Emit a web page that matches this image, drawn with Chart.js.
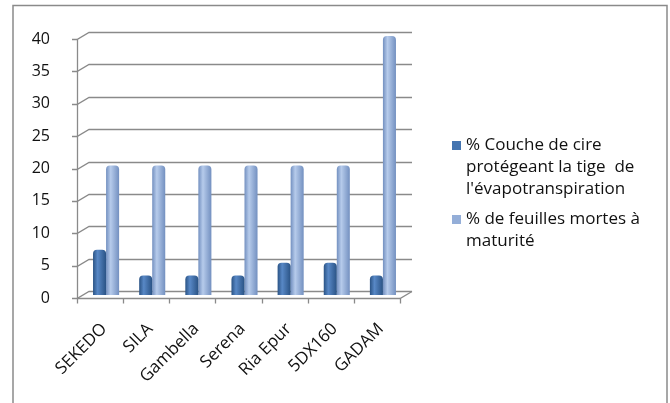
<!DOCTYPE html>
<html>
<head>
<meta charset="utf-8">
<script src="https://cdn.jsdelivr.net/npm/chart.js@4"></script>
<style>
  html, body { margin: 0; padding: 0; background: #fff; }
  canvas { display: block; }
</style>
</head>
<body>
<canvas id="chart" width="670" height="403"></canvas>
<script>
// Data
const categories = ['SEKEDO', 'SILA', 'Gambella', 'Serena', 'Ria Epur', '5DX160', 'GADAM'];
const waxCoating = [7, 3, 3, 3, 5, 5, 3];
const deadLeaves = [20, 20, 20, 20, 20, 20, 40];
const yMax = 40;
const yStep = 5;
const seriesLabels = [
  ['% Couche de cire', 'protégeant la tige  de', "l'évapotranspiration"],
  ['% de feuilles mortes à', 'maturité']
];

const FONT = '"Open Sans", sans-serif';
const GRID = '#8a8a8a';
const legendColors = ['#4474b0', '#94aed8'];

// cylinder-ish shading across each bar
function cylinder(base, edge, light) {
  return (ctx) => {
    const el = ctx.element;
    if (!el || !Number.isFinite(el.x) || !el.width) return base;
    const g = ctx.chart.ctx.createLinearGradient(el.x - el.width / 2, 0, el.x + el.width / 2, 0);
    g.addColorStop(0, edge);
    g.addColorStop(0.35, light);
    g.addColorStop(1, edge);
    return g;
  };
}

// fake 3D walls, floor and front axes like the Excel chart
const depth = { dx: 6, up: 4, down: 3 };
const frame3d = {
  id: 'frame3d',
  beforeDraw(chart) {
    const c = chart.ctx;
    c.save();
    c.strokeStyle = '#8a8a8a';
    c.lineWidth = 1.5;
    c.strokeRect(13, 5.5, 654, 430);
    c.restore();
  },
  beforeDatasetsDraw(chart) {
    const { ctx: c, chartArea: a, scales: { y } } = chart;
    const { dx, up, down } = depth;
    c.save();
    c.strokeStyle = GRID;
    c.lineWidth = 1.3;
    y.ticks.forEach(t => {
      const py = Math.round(y.getPixelForValue(t.value)) + 0.5;
      c.beginPath();
      c.moveTo(a.left - dx - 5, py + down);
      c.lineTo(a.left - dx, py + down);
      c.lineTo(a.left + dx, py - up);
      c.lineTo(a.right + dx, py - up);
      c.stroke();
    });
    const fx = Math.round(a.left - dx) + 0.5;
    const fb = Math.round(a.bottom) + 0.5 + down;
    c.beginPath();
    c.moveTo(fx, Math.round(y.getPixelForValue(yMax)) + 0.5 + down);
    c.lineTo(fx, fb);
    c.lineTo(a.right - dx, fb);
    c.lineTo(a.right + dx, fb - down - up);
    const n = categories.length;
    for (let i = 0; i <= n; i++) {
      const px = Math.round(a.left - dx + i * a.width / n) + 0.5;
      c.moveTo(px, fb);
      c.lineTo(px, fb + 5);
    }
    c.stroke();
    c.restore();
  }
};

// wrapped legend on the right
const legendBlock = {
  id: 'legendBlock',
  afterDraw(chart) {
    const c = chart.ctx;
    c.save();
    c.font = '17px ' + FONT;
    c.textBaseline = 'middle';
    let yy = 145;
    seriesLabels.forEach((lines, i) => {
      c.fillStyle = legendColors[i];
      c.fillRect(452, yy - 4, 9, 9);
      c.fillStyle = '#111';
      lines.forEach((line, j) => c.fillText(line, 466, yy + j * 22));
      yy += lines.length * 22 + 8;
    });
    c.restore();
  }
};

const chart = new Chart(document.getElementById('chart'), {
  type: 'bar',
  data: {
    labels: categories,
    datasets: [{
      label: seriesLabels[0].join(' '),
      data: waxCoating,
      backgroundColor: cylinder('#4474b0', '#2a5385', '#5888c6'),
      borderRadius: { topLeft: 4, topRight: 4 },
      borderSkipped: 'start',
      categoryPercentage: 0.565,
      barPercentage: 1
    }, {
      label: seriesLabels[1].join(' '),
      data: deadLeaves,
      backgroundColor: cylinder('#94aed8', '#7390c0', '#b6cbeb'),
      borderRadius: { topLeft: 4, topRight: 4 },
      borderSkipped: 'start',
      categoryPercentage: 0.565,
      barPercentage: 1
    }]
  },
  options: {
    responsive: false,
    animation: false,
    layout: { padding: { top: 36, right: 264, left: 0, bottom: 0 } },
    plugins: {
      legend: { display: false },
      tooltip: { enabled: false }
    },
    scales: {
      x: {
        grid: { display: false },
        border: { display: false },
        afterFit(scale) { scale.height = 108; },
        ticks: {
          color: '#111',
          font: { family: FONT, size: 17 },
          minRotation: 45,
          maxRotation: 45,
          padding: 16,
          labelOffset: -2
        }
      },
      y: {
        min: 0,
        max: yMax,
        grid: { display: false },
        border: { display: false },
        afterFit(scale) { scale.width = 83; },
        ticks: {
          stepSize: yStep,
          color: '#111',
          font: { family: FONT, size: 16 },
          padding: 25,
          labelOffset: 3
        }
      }
    }
  },
  plugins: [frame3d, legendBlock]
});
// second pass so the gradients know each bar's position
chart.update();
</script>
</body>
</html>
